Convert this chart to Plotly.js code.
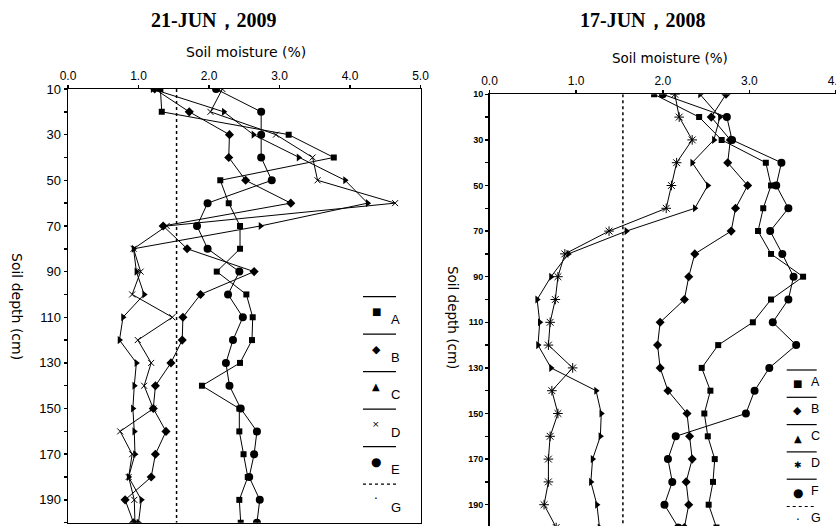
<!DOCTYPE html>
<html>
<head>
<meta charset="utf-8">
<script src="https://cdn.plot.ly/plotly-3.0.1.min.js"></script>
<style>html,body{margin:0;padding:0;background:#fff;}#chart{width:836px;height:526px;}</style>
</head>
<body>
<div id="chart"></div>
<script>
// ---------- DATA ----------
const depths = [10,20,30,40,50,60,70,80,90,100,110,120,130,140,150,160,170,180,190,200];
const depthTickText = ['10','','30','','50','','70','','90','','110','','130','','150','','170','','190',''];

// 21-JUN, 2009
const leftA = [1.31,1.33,3.13,3.77,2.16,2.28,2.44,2.44,2.11,2.53,2.62,2.61,2.44,1.90,2.43,2.43,2.49,2.55,2.43,2.45];
const leftB = [1.23,1.72,2.29,2.28,2.52,3.16,1.35,1.69,2.64,1.88,1.63,1.62,1.46,1.24,1.21,1.39,1.24,1.18,0.81,0.93];
const leftC = [1.20,2.21,2.63,3.27,3.93,4.25,2.73,0.93,0.97,1.08,0.78,0.73,0.97,0.94,0.92,0.94,0.95,0.86,1.04,1.00];
const leftD = [2.19,2.02,2.95,3.47,3.54,4.64,1.40,0.93,1.03,0.91,1.48,0.99,1.18,1.08,1.21,0.74,0.91,0.86,0.94,0.95];
const leftE = [2.10,2.74,2.74,2.74,2.89,1.98,1.83,1.98,2.43,2.27,2.48,2.34,2.24,2.29,2.45,2.68,2.64,2.57,2.72,2.68];
const leftG = 1.54;

// 17-JUN, 2008
const rightA = [1.90,2.42,2.68,3.19,3.25,3.16,3.10,3.25,3.62,3.25,3.04,2.64,2.45,2.55,2.48,2.52,2.60,2.58,2.53,2.62];
const rightB = [2.73,2.56,2.78,2.75,2.98,2.84,2.79,2.37,2.30,2.25,1.97,1.94,1.97,2.06,2.28,2.31,2.34,2.27,2.30,2.25];
const rightC = [2.43,2.66,2.59,2.34,2.52,2.37,1.58,0.91,0.71,0.55,0.58,0.56,0.71,1.23,1.29,1.28,1.19,1.17,1.24,1.27];
const rightD = [2.14,2.19,2.34,2.16,2.10,2.04,1.38,0.87,0.79,0.76,0.70,0.68,0.96,0.72,0.79,0.70,0.68,0.68,0.63,0.77];
const rightF = [2.00,2.74,2.80,3.37,3.31,3.45,3.24,3.38,3.51,3.45,3.27,3.54,3.23,3.06,2.96,2.15,2.06,2.11,2.02,2.18];
const rightG = 1.54;

const leftXTicks = [0,1,2,3,4,5];
const leftXTickText = ['0.0','1.0','2.0','3.0','4.0','5.0'];
const rightXTicks = [0,1,2,3,4];
const rightXTickText = ['0.0','1.0','2.0','3.0','4.0'];

const leftTitle = '21-JUN，2009';
const rightTitle = '17-JUN，2008';
const xTitle = 'Soil moisture (%)';
const yTitle = 'Soil depth (cm)';
const leftLegendNames = ['A','B','C','D','E','G'];
const rightLegendNames = ['A','B','C','D','F','G'];

// ---------- STYLE ----------
const W = 836, H = 526;
const px = v => v / W;
const py = v => 1 - v / H;
const K = '#000';
const SANS = 'DejaVu Sans, sans-serif';
const TICKF = 'Liberation Sans, Arial, sans-serif';

function series(x, xa, ya, marker) {
  return {x: x, y: depths, xaxis: xa, yaxis: ya, type: 'scatter', mode: 'lines+markers',
    line: {color: K, width: 1}, marker: Object.assign({color: K}, marker), showlegend: false, hoverinfo: 'skip'};
}
const mSq = {symbol: 'square', size: 6};
const mDi = {symbol: 'diamond', size: 7};
const mTr = {symbol: 'triangle-right', size: 7};
const mXL = {symbol: 'x-thin-open', size: 6, line: {width: 1, color: K}};
const mAs = {symbol: 'asterisk-open', size: 8, line: {width: 1, color: K}};
const mCi = {symbol: 'circle', size: 8};

function gLine(g, xa, ya) {
  return {x: [g, g], y: [depths[0], depths[depths.length - 1]], xaxis: xa, yaxis: ya, type: 'scatter', mode: 'lines',
    line: {color: K, width: 1.5, dash: '3px,3px'}, showlegend: false, hoverinfo: 'skip'};
}

const data = [
  gLine(leftG, 'x', 'y'),
  series(leftA, 'x', 'y', mSq),
  series(leftB, 'x', 'y', mDi),
  series(leftC, 'x', 'y', mTr),
  series(leftD, 'x', 'y', mXL),
  series(leftE, 'x', 'y', mCi),
  gLine(rightG, 'x2', 'y2'),
  series(rightA, 'x2', 'y2', mSq),
  series(rightB, 'x2', 'y2', mDi),
  series(rightC, 'x2', 'y2', mTr),
  series(rightD, 'x2', 'y2', mAs),
  series(rightF, 'x2', 'y2', mCi)
];

const axBase = {showgrid: false, zeroline: false, showline: true, linecolor: K, linewidth: 1.5,
  ticks: 'outside', ticklen: 3, tickwidth: 1.5, tickcolor: K, fixedrange: true};

const layout = {
  width: W, height: H,
  margin: {l: 0, r: 0, t: 0, b: 0},
  paper_bgcolor: '#fff', plot_bgcolor: '#fff',
  showlegend: false,
  xaxis: Object.assign({}, axBase, {domain: [px(68), px(420.5)], range: [0, 5], side: 'top', anchor: 'y', mirror: true,
    tickmode: 'array', tickvals: leftXTicks, ticktext: leftXTickText, tickfont: {family: TICKF, size: 12, color: K}}),
  yaxis: Object.assign({}, axBase, {domain: [py(522.7), py(89)], range: [200, 10], anchor: 'x', mirror: true,
    tickmode: 'array', tickvals: depths, ticktext: depthTickText, tickfont: {family: TICKF, size: 13, color: K}}),
  xaxis2: Object.assign({}, axBase, {domain: [px(489.5), 1], range: [0, 4], side: 'top', anchor: 'y2',
    ticklabeloverflow: 'allow',
    tickmode: 'array', tickvals: rightXTicks, ticktext: rightXTickText, tickfont: {family: TICKF, size: 12, color: K}}),
  yaxis2: Object.assign({}, axBase, {domain: [0, py(94.3)], range: [199.34, 10], anchor: 'x2',
    tickmode: 'array', tickvals: depths, ticktext: depthTickText, tickfont: {family: TICKF, size: 9, color: K, weight: 'bold'}}),
  annotations: [],
  shapes: []
};

const ann = layout.annotations, shp = layout.shapes;
function text(t, x, y, font, extra) {
  ann.push(Object.assign({text: t, x: px(x), y: py(y), xref: 'paper', yref: 'paper', showarrow: false,
    xanchor: 'center', yanchor: 'middle', borderpad: 0, font: font}, extra || {}));
}
// titles
text(leftTitle, 214, 20, {family: 'Liberation Serif, serif', size: 20, color: K, weight: 'bold'});
text(rightTitle, 643, 20, {family: 'Liberation Serif, serif', size: 20, color: K, weight: 'bold'});
text(xTitle, 246, 52, {family: SANS, size: 14, color: K});
text(xTitle, 670, 58, {family: SANS, size: 13.5, color: K});
text(yTitle, 17, 306, {family: SANS, size: 14, color: K}, {textangle: 90});
text(yTitle, 453, 317, {family: SANS, size: 13.5, color: K}, {textangle: 90});

// legends
const glyphsL = [['■', 10], ['◆', 11], ['▲', 10], ['×', 9], ['●', 12], ['·', 12]];
const glyphsR = [['■', 10], ['◆', 11], ['▲', 10], ['✱', 9], ['●', 12], ['·', 12]];
function legend(names, glyphs, x0, x1, mx, lx, ly0, step, mOff, lOff, lsize) {
  names.forEach((n, i) => {
    const y = ly0 + i * step;
    shp.push({type: 'line', xref: 'paper', yref: 'paper', x0: px(x0), x1: px(x1), y0: py(y), y1: py(y),
      line: {color: K, width: 1.2, dash: i === names.length - 1 ? '3px,3px' : 'solid'}});
    text(glyphs[i][0], mx, y + mOff, {family: SANS, size: glyphs[i][1], color: K});
    text(n, lx, y + lOff, {family: TICKF, size: lsize, color: K}, {xanchor: 'left'});
  });
}
legend(leftLegendNames, glyphsL, 363, 396, 376, 390, 296.7, 37.5, 15, 23, 13);
legend(rightLegendNames, glyphsR, 786.7, 816.7, 797.7, 810, 370, 27.3, 13.5, 11.5, 12.5);

Plotly.newPlot('chart', data, layout, {staticPlot: true, displayModeBar: false});
</script>
</body>
</html>
